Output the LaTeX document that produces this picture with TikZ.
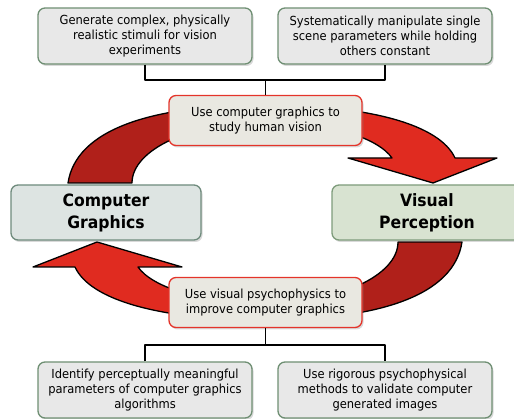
\documentclass[tikz,border=0pt]{standalone}
\usepackage{fontspec}
\setmainfont{DejaVu Sans}[FakeStretch=0.92]
\usetikzlibrary{shadows}

\definecolor{arrowdark}{HTML}{B0201A}
\definecolor{arrowlight}{HTML}{E02B20}
\definecolor{notefill}{HTML}{E8E8E8}
\definecolor{noteline}{HTML}{6F8F73}
\definecolor{hubfill}{HTML}{E9E8E1}
\definecolor{hubline}{HTML}{E4342A}
\definecolor{cgfill}{HTML}{DDE4E2}
\definecolor{cgline}{HTML}{6F8B7D}
\definecolor{vpfill}{HTML}{D8E3D1}
\definecolor{vpline}{HTML}{7E9C7B}

% one half of the ring: tail on the left, head on the right
\newcommand{\ringpath}{(68,183) .. controls (76,130) and (150,105) .. (265,105)
  .. controls (370,105) and (440,125) .. (455,158)
  -- (497,158) -- (433,183) -- (348,158) -- (392,158)
  .. controls (378,138) and (330,122) .. (265,122)
  .. controls (190,122) and (132,150) .. (132,183) -- cycle}

\tikzset{
  shade box/.style={rounded corners=7pt, line width=1.3pt, align=center, inner sep=0pt,
    drop shadow={shadow xshift=1.5pt, shadow yshift=-2pt, opacity=0.3}},
  note/.style={shade box, draw=noteline, fill=notefill, minimum width=214pt, minimum height=56pt,
    font=\fontsize{12.5}{15}\selectfont},
  hub/.style={shade box, draw=hubline, fill=hubfill, minimum width=193pt, minimum height=50pt,
    font=\fontsize{12.5}{15}\selectfont},
  field/.style={shade box, minimum width=190pt, minimum height=55pt,
    font=\fontsize{17}{22}\selectfont\bfseries},
  link/.style={line width=1.6pt, black},
}

\begin{document}
\begin{tikzpicture}[x=1pt, y=-1pt, line join=round]
	\useasboundingbox (0,0) rectangle (514,419);
	
	% the two red arrows of the cycle
	\foreach \r in {0,180}{
		\begin{scope}[rotate around={\r:(265,212.5)}]
			\fill[arrowlight] \ringpath;
			\begin{scope}
				\clip (0,0) rectangle (265,419);
				\fill[arrowdark] \ringpath;
			\end{scope}
			\draw[line width=1.3pt, black] \ringpath;
		\end{scope}
	}
	
	\node[note] (gen) at (145,36) {Generate complex, physically\\realistic stimuli for vision\\experiments};
	\node[note] (sys) at (385,36) {Systematically manipulate single\\scene parameters while holding\\others constant};
	\node[hub] (usecg) at (265.5,120.5) {Use computer graphics to\\study human vision};
	\node[field, draw=cgline, fill=cgfill] (cg) at (106,212.5) {Computer\\Graphics};
	\node[field, draw=vpline, fill=vpfill] (vp) at (427,212.5) {Visual\\Perception};
	\node[hub] (usevis) at (265.5,302.5) {Use visual psychophysics to\\improve computer graphics};
	\node[note] (ident) at (145,390) {Identify perceptually meaningful\\parameters of computer graphics\\algorithms};
	\node[note] (rig) at (385,390) {Use rigorous psychophysical\\methods to validate computer\\generated images};
	
	\coordinate (topjoin) at (265.5,80);
	\coordinate (botjoin) at (265.5,345);
	\draw[link] (gen.south) |- (topjoin) -| (sys.south);
	\draw[link] (topjoin) -- (usecg.north);
	\draw[link] (ident.north) |- (botjoin) -| (rig.north);
	\draw[link] (botjoin) -- (usevis.south);
\end{tikzpicture}
\end{document}
